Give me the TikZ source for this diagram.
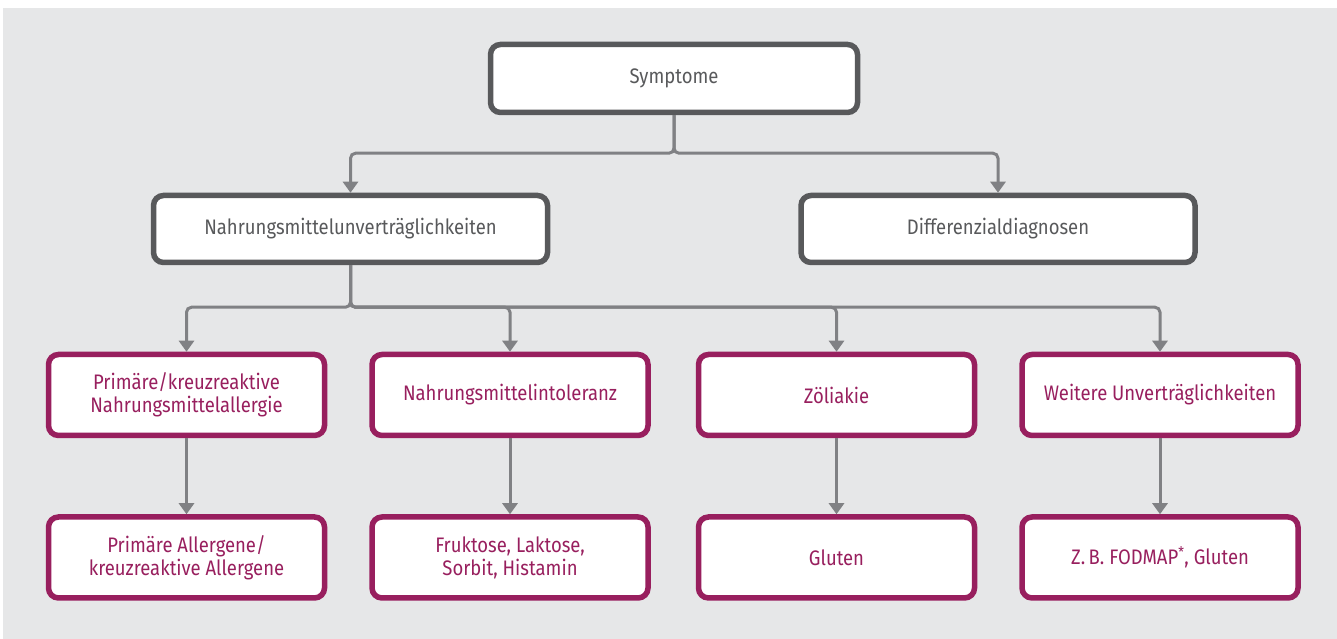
\documentclass[tikz,border=0pt]{standalone}
\usepackage{fontspec}
\setsansfont{Fira Sans}[FakeStretch=0.88]
\usepackage{xcolor}
\usepackage{tikz}
\usetikzlibrary{arrows.meta}
\usetikzlibrary{positioning}
\definecolor{bggray}{RGB}{230,231,232}
\definecolor{boxgray}{RGB}{88,89,91}
\definecolor{linegray}{RGB}{128,129,132}
\definecolor{plum}{RGB}{152,31,94}
\tikzset{%
  >={Triangle[width=15pt,length=11pt]},
  % Specifications for style of nodes:
  base/.style = {rectangle, rounded corners=10pt, line width=5.5pt,
    fill=white, text centered, align=center,
    font=\sffamily\fontsize{21}{23}\selectfont},
  headbox/.style = {base, draw=boxgray, text=boxgray,
    minimum width=394pt, minimum height=67pt},
  groupbox/.style = {base, draw=plum, text=plum,
    minimum width=276pt, minimum height=81pt},
  conn/.style = {->, draw=linegray, line width=3pt, rounded corners=5pt},
}

\begin{document}
\begin{tikzpicture}[x=1pt, y=1pt]
        \fill[bggray] (3,0) rectangle (1337,631);
        \useasboundingbox (0,0) rectangle (1337,639);
        % Specification of nodes (position, etc.)
        \node(Symp)[headbox, minimum width=367pt, minimum height=68pt] at (674,560.5) {Symptome};
        \node(NMU)[headbox] at (350.5,410) {Nahrungsmittelunverträglichkeiten};
        \node(Diff)[headbox, right=248pt of NMU] {Differenzialdiagnosen};
        \node(Allerg)[groupbox] at (186.5,244) {Primäre/kreuzreaktive \\ Nahrungsmittelallergie};
        \node(Intol)[groupbox, right=42pt of Allerg] {Nahrungsmittelintoleranz};
        \node(Zoel)[groupbox, right=45pt of Intol] {Zöliakie};
        \node(Weit)[groupbox, right=42pt of Zoel] {Weitere Unverträglichkeiten};
        \node(AllergEx)[groupbox, below=76pt of Allerg] {Primäre Allergene/ \\ kreuzreaktive Allergene};
        \node(IntolEx)[groupbox, below=76pt of Intol] {Fruktose, Laktose, \\ Sorbit, Histamin};
        \node(ZoelEx)[groupbox, below=76pt of Zoel] {Gluten};
        \node(WeitEx)[groupbox, below=76pt of Weit] {Z.\,B. FODMAP\textsuperscript{*}, Gluten};
        \draw[conn](Symp.south) -- ++(0,-38) -| (NMU.north);
        \draw[conn](Symp.south) -- ++(0,-38) -| (Diff.north);
        \draw[conn](NMU.south) -- ++(0,-42) -| (Allerg.north);
        \draw[conn](NMU.south) -- ++(0,-42) -| (Intol.north);
        \draw[conn](NMU.south) -- ++(0,-42) -| (Zoel.north);
        \draw[conn](NMU.south) -- ++(0,-42) -| (Weit.north);
        \draw[conn](Allerg) -- (AllergEx);
        \draw[conn](Intol) -- (IntolEx);
        \draw[conn](Zoel) -- (ZoelEx);
        \draw[conn](Weit) -- (WeitEx);
    \end{tikzpicture}
\end{document}
